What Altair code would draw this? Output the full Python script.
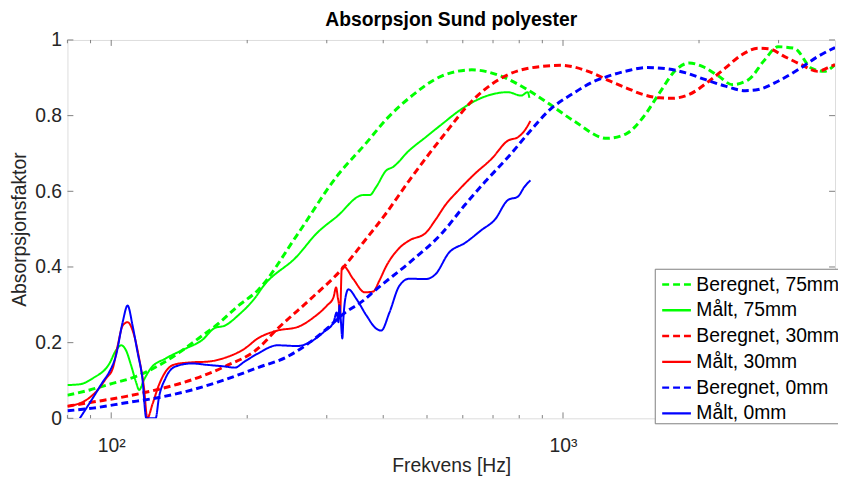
import altair as alt
import pandas as pd

# ---------------- data (frequency in Hz, absorption factor) ----------------
names = ["Beregnet, 75mm", "Målt, 75mm", "Beregnet, 30mm", "Målt, 30mm", "Beregnet, 0mm", "Målt, 0mm"]
colors = ["#00ff00", "#00ff00", "#ff0000", "#ff0000", "#0000ff", "#0000ff"]
dashes = [[7, 4], [1, 0], [7, 4], [1, 0], [7, 4], [1, 0]]
widths = [3, 2, 3, 2, 3, 2]

f_b75 = [80, 89.6, 99.1, 113.6, 127.5, 141.1, 156, 172.5, 190.9, 211, 258, 316, 367, 406, 457, 540, 628,
         731, 822, 924, 1057, 1250, 1380, 1503, 1635, 1778, 1902, 2034, 2213, 2366, 2573, 2797, 2992,
         3253, 3540, 3785, 4000]
a_b75 = [0.061, 0.075, 0.090, 0.111, 0.140, 0.173, 0.211, 0.250, 0.297, 0.338, 0.485, 0.640, 0.728,
         0.790, 0.847, 0.905, 0.921, 0.904, 0.873, 0.834, 0.786, 0.740, 0.752, 0.795, 0.860, 0.921,
         0.939, 0.930, 0.904, 0.882, 0.895, 0.948, 0.982, 0.978, 0.926, 0.917, 0.935]

f_m75 = [80, 85.2, 91.1, 99.1, 102.5, 105.2, 107.8, 110.6, 113.4, 115.3, 118.2, 122.3, 131.9, 145.9,
         158.6, 169.7, 178.5, 190.9, 211, 214.6, 258.1, 285.5, 315.6, 361.1, 373.3, 386.1, 406.1,
         420.1, 456.6, 496.6, 540.2, 587.4, 638.9, 695, 755.3, 808.1, 835.3, 842.5]
a_m75 = [0.088, 0.090, 0.106, 0.145, 0.180, 0.193, 0.180, 0.141, 0.097, 0.075, 0.102, 0.132, 0.158,
         0.184, 0.206, 0.239, 0.245, 0.272, 0.328, 0.341, 0.429, 0.490, 0.533, 0.590, 0.590, 0.612,
         0.655, 0.664, 0.708, 0.743, 0.778, 0.812, 0.839, 0.856, 0.862, 0.853, 0.862, 0.847]

f_b30 = [80, 91, 108, 127.5, 151, 178.5, 211, 233, 276, 326, 361, 406, 457, 540, 639, 755, 894, 989,
         1149, 1272, 1382, 1503, 1635, 1749, 1902, 2104, 2288, 2488, 2706, 2846, 3094, 3365, 3661,
         3849, 4000]
a_b30 = [0.032, 0.043, 0.058, 0.077, 0.102, 0.137, 0.184, 0.236, 0.315, 0.398, 0.464, 0.542, 0.629,
         0.743, 0.847, 0.908, 0.930, 0.933, 0.915, 0.891, 0.873, 0.856, 0.847, 0.846, 0.856, 0.891,
         0.926, 0.961, 0.978, 0.977, 0.956, 0.935, 0.917, 0.926, 0.935]

f_m30 = [80, 88.2, 92.7, 97.5, 100.8, 103.4, 106.0, 108.7, 112.4, 115.3, 118.2, 120.2, 123.3, 127.5,
         131.9, 138.7, 150.8, 164.0, 178.5, 197.3, 211, 233.4, 258.1, 280.7, 300.2, 310.5, 314.6,
         317.3, 319.4, 321.0, 323.7, 326.5, 343.4, 364.0, 379.8, 392.6, 406.1, 434.1, 456.6, 496.6,
         522.3, 549.3, 587.4, 638.9, 695, 755.3, 794.5, 821.6, 847]
a_m30 = [0.032, 0.049, 0.071, 0.106, 0.132, 0.193, 0.245, 0.254, 0.219, 0.158, 0.080, 0.0, 0.036,
         0.088, 0.123, 0.143, 0.148, 0.150, 0.160, 0.184, 0.211, 0.232, 0.241, 0.267, 0.298, 0.320,
         0.346, 0.320, 0.298, 0.267, 0.394, 0.402, 0.368, 0.333, 0.335, 0.365, 0.402, 0.450, 0.470,
         0.490, 0.525, 0.564, 0.603, 0.647, 0.686, 0.734, 0.743, 0.760, 0.786]

f_b0 = [80, 91.1, 107.8, 127.5, 150.8, 178.5, 211, 245.4, 276, 300.2, 326.5, 361.1, 386.1, 456.6,
        540.2, 607.6, 671.9, 755.3, 847, 924, 1057, 1169, 1250, 1382, 1529, 1691, 1870, 2068, 2288,
        2530, 2706, 2992, 3310, 3661, 4000]
a_b0 = [0.020, 0.027, 0.041, 0.055, 0.075, 0.102, 0.134, 0.163, 0.202, 0.237, 0.276, 0.311, 0.341,
        0.411, 0.490, 0.565, 0.625, 0.690, 0.760, 0.810, 0.860, 0.890, 0.903, 0.918, 0.927, 0.924,
        0.913, 0.895, 0.878, 0.866, 0.869, 0.891, 0.921, 0.956, 0.980]

f_m0 = [85.2, 91.1, 95.9, 99.1, 102.5, 106.0, 108.7, 111.5, 114.3, 117.2, 119.6, 125.4, 127.5, 131.9,
        138.7, 150.8, 164.0, 178.5, 187.7, 197.3, 211, 233.4, 258.1, 276, 295.3, 310.5, 315.6, 318.3,
        320, 322.1, 324.8, 326.5, 332, 334.9, 349.1, 367.1, 386.1, 396, 413, 434.1, 456.6, 496.6,
        522.3, 558.5, 607.6, 660.7, 706.6, 755.3, 794.5, 821.6, 847]
a_m0 = [0.0, 0.054, 0.097, 0.123, 0.167, 0.254, 0.298, 0.245, 0.176, 0.106, 0.0, 0.0, 0.054, 0.106,
        0.137, 0.145, 0.141, 0.137, 0.134, 0.150, 0.171, 0.193, 0.191, 0.202, 0.228, 0.254, 0.280,
        0.254, 0.298, 0.263, 0.211, 0.263, 0.333, 0.341, 0.315, 0.272, 0.237, 0.232, 0.280, 0.350,
        0.369, 0.368, 0.381, 0.437, 0.464, 0.498, 0.525, 0.577, 0.586, 0.612, 0.629]

x_major = [100, 1000]
x_minor = [80, 90, 200, 300, 400, 500, 600, 700, 800, 900, 2000, 3000]
y_ticks = [0, 0.2, 0.4, 0.6, 0.8, 1.0]

# ---------------- build table ----------------
series_f = [f_b75, f_m75, f_b30, f_m30, f_b0, f_m0]
series_a = [a_b75, a_m75, a_b30, a_m30, a_b0, a_m0]
rows = []
for k, (fs, as_) in enumerate(zip(series_f, series_a)):
    for i, (fv, av) in enumerate(zip(fs, as_)):
        rows.append({"f": fv, "a": av, "series": names[k], "w": widths[k], "k": k, "i": i})
df = pd.DataFrame(rows)

W, H = 775, 382
FONT = "Liberation Sans"
FS = 19.5
GRAY = "#7f7f7f"

xscale = alt.Scale(type="log", domain=[80, 4000], nice=False)
yscale = alt.Scale(domain=[0, 1], nice=False)

leg = alt.Legend(orient="none", legendX=593, legendY=231, title=None, symbolType="stroke",
                 symbolSize=841, symbolStrokeWidth=2.5, symbolOffset=6, labelFontSize=FS,
                 labelFont=FONT, labelColor="black", fillColor="white", strokeColor=GRAY,
                 padding=0, rowPadding=-2.2, labelOffset=4, labelLimit=300)

lines = alt.Chart(df).mark_line(clip=True, interpolate="monotone").encode(
    x=alt.X("f:Q", scale=xscale,
            axis=alt.Axis(values=x_major, labelExpr="datum.value == 100 ? '10²' : '10³'",
                          ticks=False, domain=False, grid=False, title="Frekvens [Hz]",
                          labelFontSize=FS, labelFont=FONT, labelColor="#262626", labelPadding=19,
                          titleFontSize=FS, titleFont=FONT, titleFontWeight="normal",
                          titleColor="#262626", titlePadding=1)),
    y=alt.Y("a:Q", scale=yscale,
            axis=alt.Axis(values=y_ticks, format="~g", ticks=False, domain=False, grid=False,
                          title="Absorpsjonsfaktor", labelFontSize=FS, labelFont=FONT,
                          labelColor="#262626", labelPadding=6, titleFontSize=FS, titleFont=FONT,
                          titleFontWeight="normal", titleColor="#262626", titlePadding=5)),
    color=alt.Color("series:N", scale=alt.Scale(domain=names, range=colors), legend=leg),
    strokeDash=alt.StrokeDash("series:N", scale=alt.Scale(domain=names, range=dashes), legend=leg),
    strokeWidth=alt.StrokeWidth("w:Q", scale=None, legend=None),
    detail="k:N",
    order="i:Q",
)

ty = pd.DataFrame({"a": y_ticks})

xt_bot_maj = alt.Chart(pd.DataFrame({"f": x_major})).mark_rule(color=GRAY, strokeWidth=1).encode(
    x=alt.X("f:Q", scale=xscale), y=alt.value(H), y2=alt.value(H - 6))
xt_top_maj = alt.Chart(pd.DataFrame({"f": x_major})).mark_rule(color=GRAY, strokeWidth=1).encode(
    x=alt.X("f:Q", scale=xscale), y=alt.value(0), y2=alt.value(6))
xt_bot_min = alt.Chart(pd.DataFrame({"f": x_minor})).mark_rule(color=GRAY, strokeWidth=1).encode(
    x=alt.X("f:Q", scale=xscale), y=alt.value(H), y2=alt.value(H - 3.3))
xt_top_min = alt.Chart(pd.DataFrame({"f": x_minor})).mark_rule(color=GRAY, strokeWidth=1).encode(
    x=alt.X("f:Q", scale=xscale), y=alt.value(0), y2=alt.value(3.3))
yt_left = alt.Chart(ty).mark_rule(color=GRAY, strokeWidth=1).encode(
    y=alt.Y("a:Q", scale=yscale), x=alt.value(0), x2=alt.value(6))
yt_right = alt.Chart(ty).mark_rule(color=GRAY, strokeWidth=1).encode(
    y=alt.Y("a:Q", scale=yscale), x=alt.value(W), x2=alt.value(W - 6))

chart = alt.layer(lines, xt_bot_maj, xt_top_maj, xt_bot_min, xt_top_min, yt_left, yt_right).properties(
    width=W, height=H,
    title=alt.Title("Absorpsjon Sund polyester", fontSize=FS, font=FONT, fontWeight="bold",
                    color="black", anchor="middle", offset=0),
    autosize=alt.AutoSizeParams(type="none"),
    padding={"left": 60, "top": 30, "right": 3, "bottom": 60},
).configure_view(stroke=GRAY, strokeWidth=1).configure(background="white")

chart.save("out.html", embed_options={"renderer": "svg", "actions": False})
